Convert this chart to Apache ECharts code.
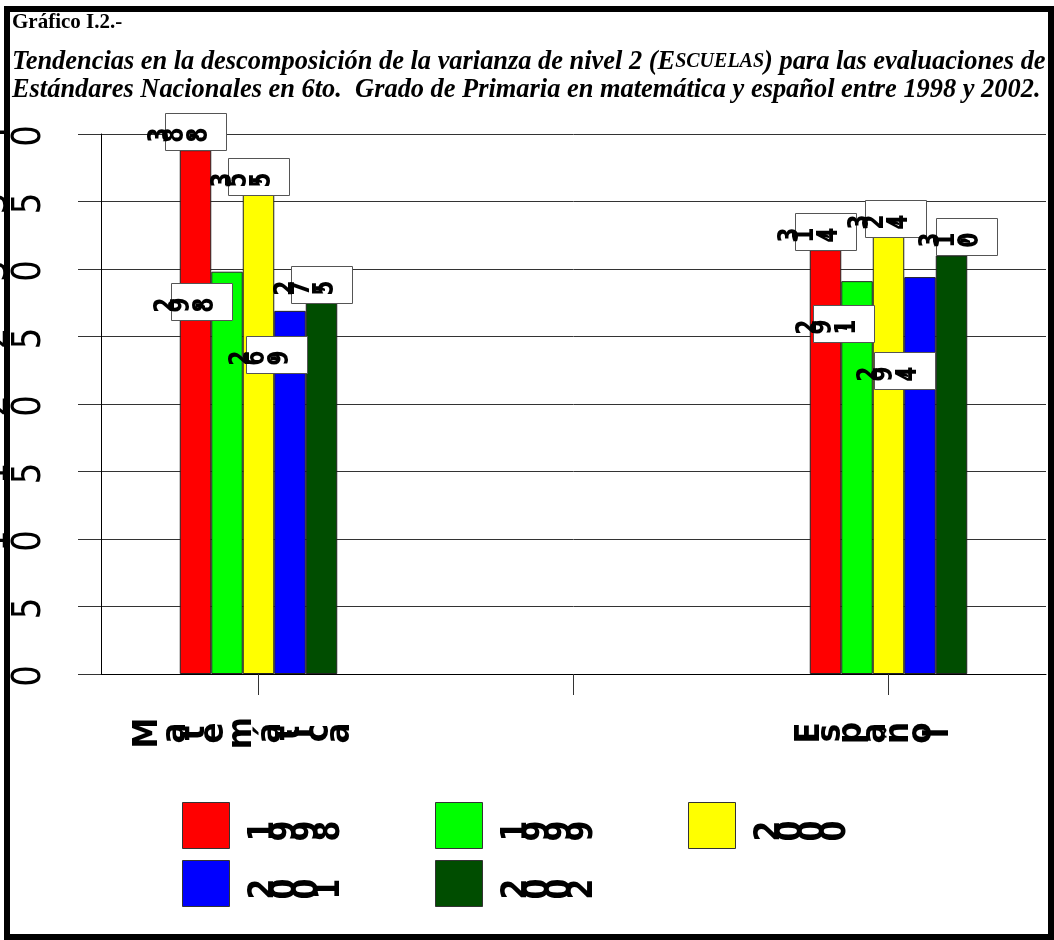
<!DOCTYPE html>
<html>
<head>
<meta charset="utf-8">
<script src="https://cdn.jsdelivr.net/npm/echarts@6/dist/echarts.min.js"></script>
<style>
  html, body { margin: 0; padding: 0; background: #ffffff; }
  #chart { width: 1054px; height: 940px; }
</style>
</head>
<body>
<div id="chart"></div>
<script>
// Subjects on the category axis (the middle slot is an empty spacer category)
const subjects = ['Matemática', '', 'Español'];
const years = ['1998', '1999', '2000', '2001', '2002'];

// Level-2 (school) variance share, per year, for [Matemática, -, Español]
const v1998 = [38.8, null, 31.4];
const v1999 = [29.8, null, 29.1];
const v2000 = [35.5, null, 32.4];
const v2001 = [26.9, null, 29.4];
const v2002 = [27.5, null, 31.0];

const yTicks = [0, 5, 10, 15, 20, 25, 30, 35, 40];

const yearColors = ['#ff0000', '#00ff00', '#ffff00', '#0000ff', '#004d00'];
const seriesValues = [v1998, v1999, v2000, v2001, v2002];

// Tag box placement relative to the top centre of its bar: [dx, dy of box top]
const TAG_W = 61, TAG_H = 37;
const tagOffset = [
  [[0, -37], [0, -37]],
  [[-26, 11], [-13.5, 24]],
  [[0, -37], [6.5, -37]],
  [[-14, 25], [-15.5, 75]],
  [[0, -37], [15, -38]]
];

// Text drawn as a row of individually rotated glyphs
const measureCtx = document.createElement('canvas').getContext('2d');
function glyphRow(str, o) {
  const font = o.weight + ' ' + o.size + 'px ' + o.family;
  measureCtx.font = font;
  const chars = Array.from(str);
  const adv = chars.map(ch => measureCtx.measureText(ch).width * o.k);
  const total = adv.reduce((a, b) => a + b, 0);
  let start;
  if (o.align === 'right') start = o.x - total + adv[adv.length - 1] / 2;
  else if (o.align === 'left') start = o.x - adv[0] / 2;
  else start = o.x - total / 2;
  let acc = start;
  return chars.map((ch, i) => {
    const cx = acc + adv[i] / 2;
    acc += adv[i];
    return {
      type: 'text',
      x: cx,
      y: o.y,
      rotation: Math.PI / 2,
      scaleY: o.q,
      silent: true,
      z2: 10,
      style: {
        text: ch,
        font: font,
        fill: '#000000',
        align: 'center',
        verticalAlign: 'middle'
      }
    };
  });
}

const SANS = '"DejaVu Sans", Verdana, sans-serif';
const AXIS_FONT = { family: SANS, weight: 'normal', size: 34, k: 1.6, q: 1.15 };
const TAG_FONT = { family: SANS, weight: 'bold', size: 22, k: 1.0, q: 1.25 };
const CAT_FONT = { family: SANS, weight: 'bold', size: 31, k: 1.07, q: 1.1 };
const LEG_FONT = { family: SANS, weight: 'bold', size: 30, k: 1.05, q: 1.2 };

const fmt = v => v.toFixed(1).replace('.', ',');

const barSeries = years.map((yr, j) => ({
  name: yr,
  type: 'bar',
  data: seriesValues[j],
  barGap: '0%',
  barCategoryGap: '50%',
  itemStyle: { color: yearColors[j], borderColor: '#222222', borderWidth: 1 },
  z: 2
}));

const tagSeries = years.map((yr, j) => ({
  name: 'tag' + yr,
  type: 'custom',
  silent: true,
  z: 5,
  data: seriesValues[j].map((v, i) => v == null ? null : [i, v]).filter(d => d),
  renderItem(params, api) {
    const ci = api.value(0), v = api.value(1);
    const top = api.coord([ci, v]);
    const band = api.size([1, 0])[0];
    const bw = band * 0.5 / years.length;
    const cx = top[0] + (j - (years.length - 1) / 2) * bw;
    const off = tagOffset[j][ci === 0 ? 0 : 1];
    const bx = Math.round(cx - TAG_W / 2 + off[0]) + 0.5;
    const by = Math.round(top[1] + off[1]) + 0.5;
    return {
      type: 'group',
      children: [
        { type: 'rect', shape: { x: bx, y: by, width: TAG_W, height: TAG_H },
          style: { fill: '#ffffff', stroke: '#555555', lineWidth: 1 } }
      ].concat(glyphRow(fmt(v), Object.assign({}, TAG_FONT, { x: bx + TAG_W / 2 - 16, y: by + TAG_H / 2 + 3 })))
    };
  }
}));

const yLabelSeries = {
  name: 'yLabels',
  type: 'custom',
  silent: true,
  z: 6,
  data: yTicks.map(t => [0, t]),
  renderItem(params, api) {
    const y = api.coord([0, api.value(1)])[1];
    return { type: 'group', children: glyphRow(String(api.value(1)), Object.assign({}, AXIS_FONT, { x: 30, y: y + 2, align: 'right' })) };
  }
};

const catLabelSeries = {
  name: 'catLabels',
  type: 'custom',
  silent: true,
  z: 6,
  data: subjects.map((s, i) => s ? [i, 0] : null).filter(d => d),
  renderItem(params, api) {
    const ci = api.value(0);
    const p = api.coord([ci, 0]);
    return { type: 'group', children: glyphRow(subjects[ci], Object.assign({}, CAT_FONT, { x: p[0] - 17, y: p[1] + 59 })) };
  }
};

// Legend: swatches plus rotated-glyph year labels
const legendPos = [[182, 802], [435, 802], [688, 802], [182, 860], [435, 860]];
const legendItems = [];
years.forEach((yr, j) => {
  const [lx, ly] = legendPos[j];
  legendItems.push({
    type: 'rect', left: lx, top: ly, z: 20,
    shape: { width: 47, height: 46 },
    style: { fill: yearColors[j], stroke: '#333333', lineWidth: 1 }
  });
  legendItems.push({
    type: 'group', z: 20,
    children: glyphRow(yr, Object.assign({}, LEG_FONT, { x: lx + 47 + 35, y: ly + 29, align: 'left' }))
  });
});

const SERIF = '"Liberation Serif", "Times New Roman", serif';

const option = {
  animation: false,
  backgroundColor: '#ffffff',
  grid: { left: 101, right: 8, top: 134, bottom: 266, containLabel: false },
  xAxis: {
    type: 'category',
    data: subjects,
    boundaryGap: true,
    axisLine: { show: true, lineStyle: { color: '#000000', width: 1 } },
    axisTick: { show: true, alignWithLabel: true, interval: 0, length: 21, lineStyle: { color: '#333333' } },
    axisLabel: { show: false },
    splitLine: { show: false }
  },
  yAxis: {
    type: 'value',
    min: 0,
    max: 40,
    interval: 5,
    axisLine: { show: true, lineStyle: { color: '#000000', width: 1 } },
    axisTick: { show: true, inside: false, length: 23, lineStyle: { color: '#333333' } },
    axisLabel: { show: false },
    splitLine: { show: true, lineStyle: { color: '#333333', width: 1 } }
  },
  series: barSeries.concat(tagSeries, [yLabelSeries, catLabelSeries]),
  graphic: [
    {
      type: 'text', x: 12, y: 23, z: 30,
      style: { text: 'Gráfico I.2.-', font: 'bold 21px ' + SERIF, fill: '#000000', verticalAlign: 'middle' }
    },
    {
      type: 'text', x: 12, y: 62, z: 30,
      style: {
        text: 'Tendencias en la descomposición de la varianza de nivel 2 (E{sc|SCUELAS}) para las evaluaciones de',
        font: 'italic bold 26.4px ' + SERIF, fill: '#000000', verticalAlign: 'middle',
        rich: { sc: { font: 'italic bold 20px ' + SERIF, fill: '#000000' } }
      }
    },
    {
      type: 'text', x: 12, y: 90, z: 30,
      style: {
        text: 'Estándares Nacionales en 6to.  Grado de Primaria en matemática y español entre 1998 y 2002.',
        font: 'italic bold 26.4px ' + SERIF, fill: '#000000', verticalAlign: 'middle'
      }
    },
    {
      type: 'rect', left: 4, top: 6, z: 100,
      shape: { width: 1044, height: 928 },
      style: { fill: null, stroke: '#000000', lineWidth: 6 }
    }
  ].concat(legendItems)
};

const chart = echarts.init(document.getElementById('chart'));
chart.setOption(option);
</script>
</body>
</html>
